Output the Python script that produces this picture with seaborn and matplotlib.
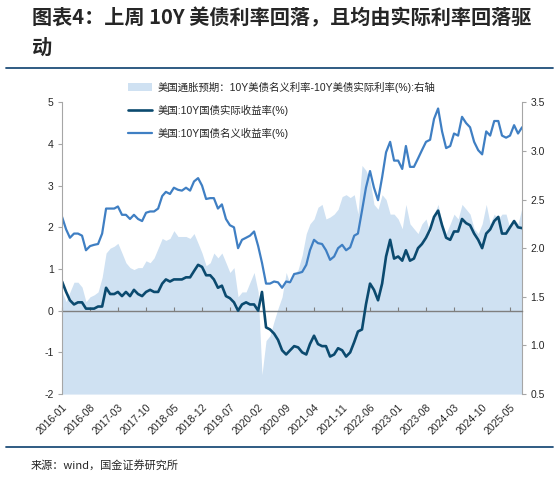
import pandas as pd
import seaborn as sns
import matplotlib.pyplot as plt
from matplotlib.patches import Patch
from matplotlib.lines import Line2D

# monthly readings from the chart, 2016-01 .. 2025-08
start_month = '2016-01'
nominal_10y = [
    2.25, 1.95, 1.75, 1.85, 1.85, 1.80, 1.45, 1.55, 1.58, 1.60, 1.85, 2.45,
    2.45, 2.45, 2.50, 2.30, 2.30, 2.20, 2.30, 2.20, 2.15, 2.35, 2.38, 2.38,
    2.45, 2.75, 2.85, 2.80, 2.95, 2.90, 2.88, 2.95, 2.88, 3.10, 3.18, 3.00,
    2.68, 2.70, 2.70, 2.45, 2.55, 2.20, 2.05, 2.00, 1.50, 1.70, 1.75, 1.80,
    1.90, 1.55, 1.15, 0.65, 0.65, 0.70, 0.68, 0.55, 0.70, 0.68, 0.88, 0.90,
    0.93, 1.10, 1.45, 1.70, 1.62, 1.60, 1.45, 1.22, 1.30, 1.50, 1.58, 1.45,
    1.52, 1.80, 1.85, 2.40, 2.95, 3.35, 2.95, 2.65, 3.20, 3.80, 4.05, 3.60,
    3.60, 3.40, 3.95, 3.45, 3.45, 3.65, 3.85, 4.05, 4.10, 4.60, 4.85, 4.30,
    3.90, 3.95, 4.25, 4.20, 4.65, 4.50, 4.40, 4.05, 3.85, 3.75, 4.30, 4.20,
    4.55, 4.55, 4.20, 4.15, 4.20, 4.45, 4.25, 4.40,
]
real_10y = [
    0.70, 0.45, 0.25, 0.15, 0.20, 0.20, 0.05, 0.05, 0.05, 0.10, 0.10, 0.55,
    0.40, 0.40, 0.45, 0.35, 0.45, 0.35, 0.50, 0.40, 0.35, 0.45, 0.50, 0.45,
    0.45, 0.65, 0.75, 0.70, 0.75, 0.75, 0.75, 0.80, 0.80, 0.95, 1.10, 1.05,
    0.85, 0.85, 0.75, 0.55, 0.60, 0.35, 0.30, 0.20, 0.00, 0.15, 0.20, 0.15,
    0.15, 0.00, 0.45, -0.40, -0.45, -0.55, -0.70, -0.95, -1.05, -0.95, -0.85, -0.88,
    -1.00, -1.05, -0.80, -0.60, -0.80, -0.85, -0.85, -1.10, -1.05, -0.90, -0.95, -1.10,
    -1.00, -0.75, -0.50, -0.45, 0.15, 0.65, 0.50, 0.25, 0.65, 1.30, 1.70, 1.25,
    1.30, 1.20, 1.45, 1.20, 1.25, 1.50, 1.60, 1.75, 1.95, 2.25, 2.40, 2.05,
    1.75, 1.70, 1.90, 1.90, 2.20, 2.10, 2.05, 1.85, 1.70, 1.50, 1.85, 1.95,
    2.15, 2.25, 1.85, 1.85, 2.00, 2.15, 2.00, 1.98,
]
breakeven_10y = [
    1.55, 1.45, 1.55, 1.65, 1.65, 1.60, 1.45, 1.50, 1.52, 1.55, 1.70, 1.95,
    2.00, 2.02, 2.05, 1.95, 1.85, 1.80, 1.78, 1.80, 1.80, 1.87, 1.85, 1.90,
    2.00, 2.10, 2.08, 2.10, 2.18, 2.12, 2.12, 2.12, 2.10, 2.15, 2.05, 1.95,
    1.82, 1.85, 1.95, 1.90, 1.95, 1.85, 1.75, 1.80, 1.50, 1.55, 1.55, 1.65,
    1.75, 1.55, 0.70, 1.05, 1.10, 1.25, 1.38, 1.50, 1.75, 1.63, 1.73, 1.78,
    1.93, 2.15, 2.25, 2.30, 2.42, 2.45, 2.30, 2.32, 2.35, 2.40, 2.53, 2.55,
    2.52, 2.55, 2.35, 2.85, 2.80, 2.70, 2.45, 2.40, 2.55, 2.50, 2.35, 2.35,
    2.30, 2.20, 2.45, 2.25, 2.20, 2.15, 2.25, 2.30, 2.15, 2.35, 2.45, 2.25,
    2.15, 2.25, 2.35, 2.30, 2.45, 2.40, 2.35, 2.20, 2.15, 2.25, 2.45, 2.25,
    2.35, 2.30, 2.35, 2.35, 2.20, 2.30, 2.25, 2.42,
]
tick_labels = ['2016-01', '2016-08', '2017-03', '2017-10', '2018-05', '2018-12',
               '2019-07', '2020-02', '2020-09', '2021-04', '2021-11', '2022-06',
               '2023-01', '2023-08', '2024-03', '2024-10', '2025-05']
left_ticks = [-2, -1, 0, 1, 2, 3, 4, 5]
right_ticks = [0.5, 1.0, 1.5, 2.0, 2.5, 3.0, 3.5]

label_bei = '美国通胀预期：10Y美债名义利率-10Y美债实际利率(%):右轴'
label_real = '美国:10Y国债实际收益率(%)'
label_nom = '美国:10Y国债名义收益率(%)'

c_fill = '#cfe1f2'
c_real = '#0b4a6f'
c_nom = '#3f7fc3'
c_axis = '#a6a6a6'
c_rule = '#1f4e79'

df = pd.DataFrame({
    'date': pd.date_range(start_month, periods=len(nominal_10y), freq='MS'),
    'nominal': nominal_10y,
    'real': real_10y,
    'bei': breakeven_10y,
})

sns.set_style('white')
plt.rcParams['font.family'] = ['Liberation Sans', 'Noto Sans CJK SC']

fig = plt.figure(figsize=(5.59, 4.8), dpi=100)
ax = fig.add_axes([0.111, 0.179, 0.823, 0.608])
ax2 = ax.twinx()

# inflation expectation area on the right axis, behind the lines
ax2.fill_between(df['date'], right_ticks[0], df['bei'], color=c_fill, lw=0)
ax2.set_ylim(right_ticks[0], right_ticks[-1])
ax.set_zorder(ax2.get_zorder() + 1)
ax.patch.set_visible(False)

sns.lineplot(data=df, x='date', y='real', ax=ax, color=c_real, lw=1.9, legend=False)
sns.lineplot(data=df, x='date', y='nominal', ax=ax, color=c_nom, lw=1.6, legend=False)

ax.set_ylim(left_ticks[0], left_ticks[-1])
ax.set_xlim(df['date'].iloc[0], df['date'].iloc[-1])
ax.set_xlabel('')
ax.set_ylabel('')

tick_dates = pd.to_datetime(tick_labels)
ax.set_xticks(tick_dates)
ax.set_xticklabels(tick_labels, rotation=45, ha='right', rotation_mode='anchor', fontsize=7.5)
ax.tick_params(axis='x', length=0, pad=6)
ax.set_yticks(left_ticks)
ax.set_yticklabels([str(t) for t in left_ticks], fontsize=7.5)
ax.tick_params(axis='y', length=3, color=c_axis, pad=3)

ax2.set_yticks(right_ticks)
ax2.set_yticklabels([f'{t:.1f}' for t in right_ticks], fontsize=7.5)
ax2.tick_params(axis='y', length=3, color=c_axis, pad=3)

for s in ['top', 'bottom', 'right']:
    ax.spines[s].set_visible(False)
for s in ['top', 'bottom', 'left']:
    ax2.spines[s].set_visible(False)
ax.spines['left'].set_color(c_axis)
ax2.spines['right'].set_color(c_axis)

# zero line with small upward ticks
zero = ax.secondary_xaxis(0, transform=ax.transData)
zero.set_xticks(tick_dates, labels=[''] * len(tick_dates))
zero.tick_params(direction='in', length=3, color='#7f7f7f')
zero.spines['bottom'].set_color('#7f7f7f')
zero.spines['bottom'].set_linewidth(1.0)

handles = [Patch(facecolor=c_fill, edgecolor='none'),
           Line2D([], [], color=c_real, lw=1.9),
           Line2D([], [], color=c_nom, lw=1.6)]
ax.legend(handles, [label_bei, label_real, label_nom], loc='upper left',
          bbox_to_anchor=(0.135, 1.085), frameon=False, fontsize=7.5,
          labelspacing=1.15, handlelength=2.3, handletextpad=0.5, borderaxespad=0)

fig.text(0.058, 0.985, '图表4：上周 10Y 美债利率回落，且均由实际利率回落驱\n动',
         fontsize=14.5, fontweight='bold', fontstyle='italic', va='top', ha='left',
         linespacing=1.5, family=['Noto Sans CJK SC', 'DejaVu Sans'])
fig.add_artist(Line2D([0.01, 0.99], [1 - 68 / 480] * 2, color=c_rule, lw=1.3))
fig.add_artist(Line2D([0.01, 0.99], [1 - 447 / 480] * 2, color=c_rule, lw=1.3))
fig.text(0.054, 1 - 465 / 480, '来源：wind，国金证券研究所', fontsize=8, va='center',
         family=['Noto Sans CJK SC', 'DejaVu Sans'])

fig.savefig('out.png', dpi=100)
